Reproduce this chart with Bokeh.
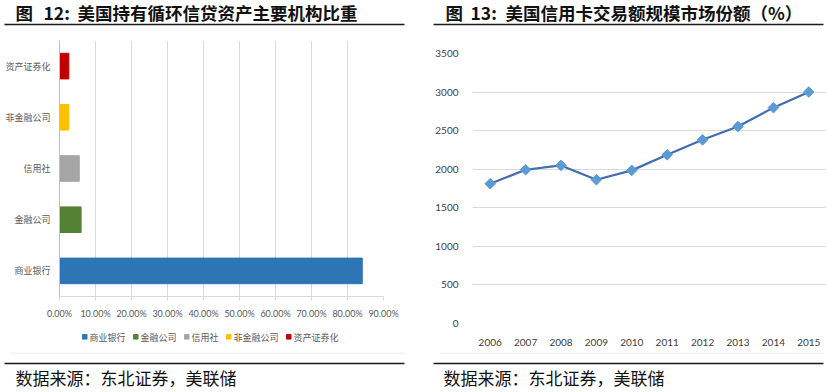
import math
from bokeh.plotting import figure
from bokeh.layouts import row, column
from bokeh.models import (Range1d, FactorRange, FixedTicker, NumeralTickFormatter,
                          Legend, LegendItem, ColumnDataSource)
from bokeh.core.properties import value
from bokeh.embed import file_html
from bokeh.resources import INLINE

# ---------------- data ----------------
title_left = ["图", "12:", "美国持有循环信贷资产主要机构比重"]
title_right = ["图", "13:", "美国信用卡交易额规模市场份额（%）"]
source_text = "数据来源：东北证券，美联储"

inst_names = ["商业银行", "金融公司", "信用社", "非金融公司", "资产证券化"]
inst_share = [0.841, 0.060, 0.055, 0.026, 0.026]
inst_colors = ["#2E75B6", "#548235", "#A5A5A5", "#FFC000", "#C00000"]
share_ticks = [0.0, 0.1, 0.2, 0.3, 0.4, 0.5, 0.6, 0.7, 0.8, 0.9]

years = ["2006", "2007", "2008", "2009", "2010", "2011", "2012", "2013", "2014", "2015"]
volume = [1812, 1993, 2049, 1864, 1985, 2187, 2381, 2553, 2798, 3000]
volume_ticks = [0, 500, 1000, 1500, 2000, 2500, 3000, 3500]

CJK = "Noto Sans CJK SC"
NUM = "Lato"

LW, RW = 420, 407          # panel widths (page has no margin)


def pixfig(w, h):
    p = figure(width=w, height=h, x_range=Range1d(0, w), y_range=Range1d(h, 0),
               output_backend="svg", toolbar_location=None, min_border=0,
               x_axis_location=None, y_axis_location=None, outline_line_color=None,
               frame_align=False)
    p.grid.visible = False
    return p


def title_fig(w, parts, xs, lx0, lx1):
    p = pixfig(w, 30)
    p.text(x=xs, y=[12, 12, 12], text=parts, text_font=value(CJK), text_font_size=value("17.5px"),
           text_font_style="bold", text_baseline="middle", text_align="left", text_color="#111111")
    p.segment(x0=[lx0], y0=[24], x1=[lx1], y1=[24], line_color="#1a1a1a", line_width=1.6)
    return p


def source_fig(w, tx, lx0, lx1):
    p = pixfig(w, 40)
    p.segment(x0=[lx0 + 6], y0=[0.5], x1=[lx1], y1=[0.5], line_color="#E6E6E6", line_width=1)
    p.segment(x0=[lx0], y0=[11], x1=[lx1], y1=[11], line_color="#1a1a1a", line_width=1.6)
    p.text(x=[tx], y=[25], text=[source_text], text_font=value(CJK), text_font_size=value("17px"),
           text_baseline="middle", text_align="left", text_color="#111111")
    return p


# ---------------- left chart ----------------
src = ColumnDataSource(dict(cat=inst_names, val=inst_share, color=inst_colors))
p1 = figure(width=LW, height=291, y_range=FactorRange(factors=inst_names),
            x_range=Range1d(0, 0.9), output_backend="svg", toolbar_location=None,
            min_border_left=59, min_border_right=37, min_border_top=10, min_border_bottom=23,
            outline_line_color=None, frame_align=False)
p1.hbar(y="cat", right="val", left=0, height=0.5, color="color", source=src)
p1.ygrid.visible = False
p1.xgrid.grid_line_color = "#D9D9D9"
p1.xaxis.ticker = FixedTicker(ticks=share_ticks)
p1.xaxis.formatter = NumeralTickFormatter(format="0.00%")
p1.xaxis.axis_line_color = "#D9D9D9"
p1.xaxis.major_tick_line_color = "#D9D9D9"
p1.xaxis.major_tick_in = 0
p1.xaxis.major_tick_out = 4
p1.xaxis.minor_tick_line_color = None
p1.xaxis.major_label_standoff = 7
p1.xaxis.major_label_text_font = NUM
p1.xaxis.major_label_text_font_size = "9px"
p1.xaxis.major_label_text_color = "#595959"
p1.yaxis.axis_line_color = "#BFBFBF"
p1.yaxis.major_tick_line_color = None
p1.yaxis.major_tick_in = 0
p1.yaxis.major_tick_out = 0
p1.yaxis.major_label_standoff = 9
p1.yaxis.major_label_text_font = CJK
p1.yaxis.major_label_text_font_size = "9px"
p1.yaxis.major_label_text_color = "#595959"

# legend strip below the bar chart (swatches taken from the same data source)
lg = figure(width=LW, height=31, x_range=Range1d(0, 1), y_range=FactorRange(factors=inst_names),
            output_backend="svg", toolbar_location=None, min_border=0,
            x_axis_location=None, y_axis_location=None, outline_line_color=None,
            frame_align=False)
lg.grid.visible = False
lr = lg.hbar(y="cat", right="val", left=0, height=0.5, color="color", source=src)
lr.visible = False
legend = Legend(items=[LegendItem(label=dict(field="cat"), renderers=[lr])],
                orientation="horizontal", location="center",
                label_text_font=CJK, label_text_font_size="9px", label_text_color="#595959",
                glyph_width=6, glyph_height=6, label_standoff=2, spacing=7,
                padding=0, margin=0, label_height=10,
                inactive_fill_alpha=0,
                border_line_color=None, background_fill_alpha=0)
lg.add_layout(legend)

# ---------------- right chart ----------------
p2 = figure(width=RW, height=322, x_range=FactorRange(factors=years),
            y_range=Range1d(0, 3500), output_backend="svg", toolbar_location=None,
            min_border_left=52, min_border_right=1, min_border_top=23, min_border_bottom=29,
            outline_line_color=None, frame_align=False)
p2.line(x=years, y=volume, line_color="#3F6DAE", line_width=2.2)
p2.scatter(x=years, y=volume, marker="square", angle=math.pi / 4, size=7.5,
           fill_color="#5B9BD5", line_color="#5B9BD5")
p2.xgrid.visible = False
p2.ygrid.grid_line_color = "#D9D9D9"
p2.yaxis.ticker = FixedTicker(ticks=volume_ticks)
for ax in (p2.xaxis, p2.yaxis):
    ax.axis_line_color = None
    ax.major_tick_line_color = None
    ax.minor_tick_line_color = None
    ax.major_label_text_font = NUM
    ax.major_label_text_font_size = "10px"
    ax.major_label_text_color = "#404040"
p2.yaxis.major_tick_in = 0
p2.yaxis.major_tick_out = 0
p2.yaxis.major_label_standoff = 14
p2.xaxis.major_label_standoff = 9

# ---------------- assemble ----------------
left = column(title_fig(LW, title_left, [15, 43, 77], 4, 404), p1, lg,
              source_fig(LW, 15, 4, 404))
right = column(title_fig(RW, title_right, [25, 50, 85], 13, 403), p2,
               source_fig(RW, 23, 13, 403))
layout = row(left, right)

open("out.html", "w").write(file_html(layout, INLINE))
